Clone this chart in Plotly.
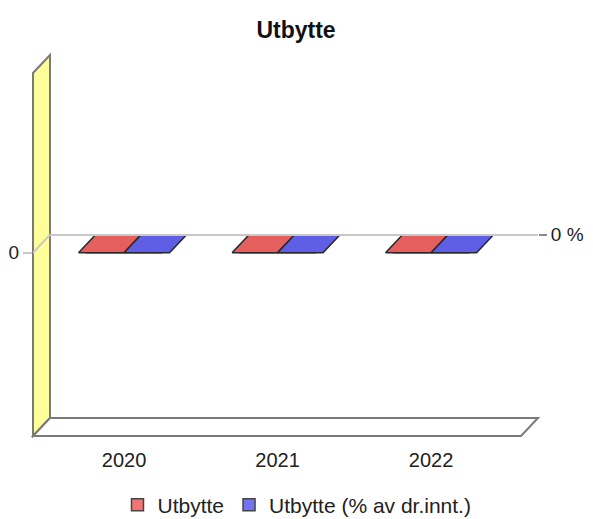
import plotly.graph_objects as go

# ---- data ----
years = ["2020", "2021", "2022"]
utbytte = [0, 0, 0]
utbytte_pct = [0, 0, 0]
series_names = ["Utbytte", "Utbytte (% av dr.innt.)"]
face_colors = ["#e65f5f", "#5f5fe6"]
legend_colors = ["#f27474", "#7474f2"]

# ---- geometry (pixels, page has an 8px body margin) ----
OFF = 8
W, H = 593 - OFF, 519 - OFF
ML, MR, MT, MB = 33 - OFF, 55, 55 - OFF, 83
DX, DY = 17, 18                      # depth offset of the back plane
PW = W - ML - MR                     # plot area width
PH = H - MT - MB                     # plot area height
FW, FH = PW - DX, PH - DY            # front plane size

XR = [-0.593, 2.586]
YR = [-1.02, 1.0]
ux = (XR[1] - XR[0]) / FW            # data units per pixel
uy = (YR[1] - YR[0]) / FH
ddx, ddy = DX * ux, DY * uy
BW = 45.5 * ux                       # bar width in data units

fig = go.Figure()

# pseudo-3D bars (top face at value, front face down to 0)
for s, (vals, col, name) in enumerate(zip([utbytte, utbytte_pct], face_colors, series_names)):
    xs, ys = [], []
    for i, v in enumerate(vals):
        x0 = i - BW + s * BW
        x1 = x0 + BW
        if v != 0:
            xs += [x0, x1, x1, x0, x0, None]
            ys += [0, 0, v, v, 0, None]
        xs += [x0, x1, x1 + ddx, x0 + ddx, x0, None]
        ys += [v, v, v + ddy, v + ddy, v, None]
    fig.add_trace(go.Scatter(
        x=xs, y=ys, mode="lines", fill="toself", fillcolor=col,
        line=dict(color="#2a2a2a", width=1.6), showlegend=False,
        hoverinfo="skip", xaxis="x", yaxis="y"))

# legend entries carrying the data
for vals, col, name in zip([utbytte, utbytte_pct], legend_colors, series_names):
    fig.add_trace(go.Bar(
        x=list(range(len(years))), y=vals, name=name,
        marker=dict(color=col, line=dict(color="#444444", width=1.5)),
        xaxis="x", yaxis="y"))

# back-plane (percent) axis needs a trace to be drawn
fig.add_trace(go.Scatter(x=list(range(len(years))), y=utbytte_pct, mode="markers",
                         marker=dict(opacity=0), showlegend=False, hoverinfo="skip",
                         xaxis="x2", yaxis="y2"))

fx0, fx1 = 0, FW / PW
bx0, bx1 = DX / PW, 1
fy0, fy1 = 0, FH / PH
by0, by1 = DY / PH, 1

def px_x(p):
    return (p - OFF - ML) / PW

def px_y(p):
    return (H - MB - (p - OFF)) / PH

shapes = []
shapes.append(dict(type="path", xref="paper", yref="paper", layer="below",
                   path=f"M{fx0},{fy0} L{fx0},{fy1} L{bx0},{by1} L{bx0},{by0} Z",
                   fillcolor="#ffff99", line=dict(color="#7a7a7a", width=2)))
shapes.append(dict(type="path", xref="paper", yref="paper", layer="below",
                   path=f"M{fx0},{fy0} L{bx0},{by0} L{bx1},{by0} L{fx1},{fy0} Z",
                   fillcolor="white", line=dict(color="#7a7a7a", width=2)))
fig.update_layout(shapes=shapes)
fig.add_shape(type="line", xref="x", yref="y", x0=XR[0], y0=0, x1=XR[0] + ddx, y1=ddy,
              line=dict(color="#c8c8c8", width=2), layer="below")

font = "Liberation Sans, Arial, sans-serif"
fig.update_layout(
    width=W, height=H,
    margin=dict(l=ML, r=MR, t=MT, b=MB, autoexpand=False),
    paper_bgcolor="white", plot_bgcolor="rgba(0,0,0,0)",
    font=dict(family=font, size=20, color="#222222"),
    title=dict(text="<b>Utbytte</b>", x=(296 - OFF) / W, xanchor="center",
               y=1 - (30 - OFF) / H, yanchor="middle", yref="container",
               font=dict(size=23, color="#111111")),
    showlegend=True,
    legend=dict(orientation="h", x=px_x(297), xanchor="center",
                y=px_y(505), yanchor="middle", font=dict(size=21),
                itemclick=False, traceorder="normal"),
    xaxis=dict(domain=[fx0, fx1], range=XR, tickvals=list(range(len(years))),
               ticktext=years, showgrid=False, zeroline=False, showline=False,
               ticks="outside", ticklen=6, tickcolor="rgba(0,0,0,0)",
               anchor="y", fixedrange=True),
    yaxis=dict(domain=[fy0, fy1], range=YR, tickvals=[0], ticktext=["0"],
               showgrid=False, zeroline=False, showline=False,
               ticks="outside", ticklen=9, tickwidth=2, tickcolor="#c8c8c8",
               tickfont=dict(size=19), anchor="x", fixedrange=True),
    xaxis2=dict(domain=[bx0, bx1], range=XR, visible=False, anchor="y2",
                fixedrange=True),
    yaxis2=dict(domain=[by0, by1], range=YR, tickvals=[0], ticktext=["0 %"],
                side="right", anchor="x2", showgrid=False, zeroline=True,
                zerolinecolor="#c8c8c8", zerolinewidth=2, showline=False,
                ticks="outside", ticklen=8, tickwidth=2, tickcolor="#8a8a8a",
                tickfont=dict(size=19), fixedrange=True),
    bargap=0.5,
)

fig.write_html("out.html")
